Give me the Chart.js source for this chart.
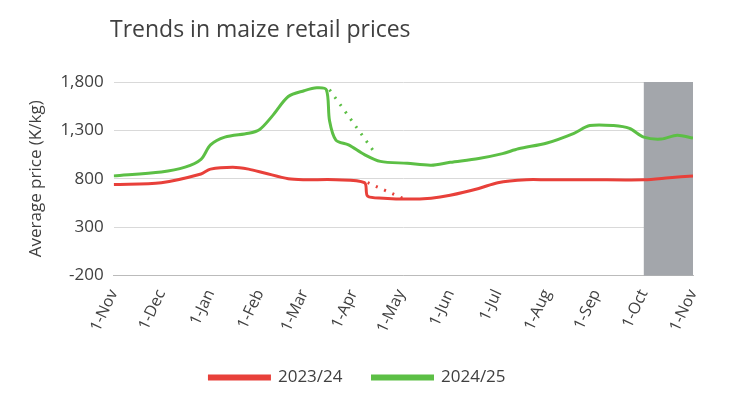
<!DOCTYPE html>
<html>
<head>
<meta charset="utf-8">
<script src="https://cdn.jsdelivr.net/npm/chart.js@4/dist/chart.umd.min.js"></script>
<style>
body { margin:0; background:#fff; }
#wrap { position:relative; width:730px; height:400px; }
#title { position:absolute; left:110px; top:12px; font:23px "Open Sans", Arial, sans-serif; color:#404040; }
</style>
</head>
<body>
<div id="wrap">
<div id="title">Trends in maize retail prices</div>
<canvas id="c" width="730" height="400"></canvas>
</div>
<script>
/* Month labels and day offsets from 1-Nov */
const monthLabels = ["1-Nov","1-Dec","1-Jan","1-Feb","1-Mar","1-Apr","1-May","1-Jun","1-Jul","1-Aug","1-Sep","1-Oct","1-Nov"];
const monthDays = [0,30,61,92,120,151,181,212,242,273,304,334,365];
const yTicks = [-200,300,800,1300,1800];

const daysA = [0,30,55,61,75,85,95,110,120,140,158,160,170,185,200,212,230,242,260,273,300,334,350,365];
const price2324 = [740,760,850,900,920,900,860,800,790,790,760,620,600,590,600,630,700,760,790,790,790,790,810,830];

const daysB = [0,30,45,55,61,70,85,92,100,110,120,128,134,136,140,148,158,168,185,200,212,230,245,255,273,290,300,315,325,334,345,355,365];
const price2425 = [830,870,920,1000,1150,1230,1270,1310,1450,1650,1710,1740,1720,1400,1200,1150,1050,980,960,940,970,1010,1060,1110,1170,1270,1350,1350,1320,1230,1210,1250,1220];

const dotDaysA = [160,182], dotA = [760,600];
const dotDaysB = [136,164], dotB = [1720,1080];
const shadeFrom = 334, shadeTo = 365;

const pts = (xs, ys) => xs.map((x, i) => ({x: x, y: ys[i]}));

const shade = {
    id: 'shade',
    beforeDatasetsDraw(chart) {
        const {ctx, chartArea, scales} = chart;
        const x1 = scales.x.getPixelForValue(shadeFrom), x2 = scales.x.getPixelForValue(shadeTo);
        ctx.save();
        ctx.fillStyle = '#a3a6ab';
        ctx.fillRect(x1, chartArea.top, x2 - x1, chartArea.bottom - chartArea.top);
        ctx.restore();
    }
};

new Chart(document.getElementById("c").getContext('2d'), {
    type: 'line',
    data: {
        datasets: [
            {label: '2023/24', data: pts(daysA, price2324), borderColor: '#e8403a', borderWidth: 3, pointRadius: 0, tension: 0.3},
            {label: '2024/25', data: pts(daysB, price2425), borderColor: '#5cbf45', borderWidth: 3, pointRadius: 0, tension: 0.3},
            {label: 'dotA', data: pts(dotDaysA, dotA), borderColor: '#e8403a', borderWidth: 3, borderDash: [2, 7], pointRadius: 0},
            {label: 'dotB', data: pts(dotDaysB, dotB), borderColor: '#5cbf45', borderWidth: 3, borderDash: [2, 7], pointRadius: 0}
        ]
    },
    options: {
        responsive: false,
        animation: false,
        layout: {padding: {top: 82, right: 37, left: 22, bottom: 4}},
        plugins: {
            legend: {
                position: 'bottom',
                labels: {
                    filter: item => !item.text.startsWith('dot'),
                    boxWidth: 60, boxHeight: 3, padding: 30,
                    color: '#404040', font: {size: 17, family: 'Open Sans'}
                }
            },
            tooltip: {enabled: false}
        },
        scales: {
            x: {
                type: 'linear', min: 0, max: 365,
                afterBuildTicks: axis => { axis.ticks = monthDays.map(v => ({value: v})); },
                ticks: {
                    callback: (v) => monthLabels[monthDays.indexOf(v)],
                    maxRotation: 65, minRotation: 65, autoSkip: false,
                    color: '#404040', font: {size: 16, family: 'Open Sans'}
                },
                grid: {display: false, drawTicks: true},
                border: {color: '#bbb'}
            },
            y: {
                min: -200, max: 1800,
                afterBuildTicks: axis => { axis.ticks = yTicks.map(v => ({value: v})); },
                ticks: {
                    callback: v => v.toLocaleString('en-US'),
                    padding: 10,
                    color: '#404040', font: {size: 17, family: 'Open Sans'}
                },
                grid: {color: '#d9d9d9', drawTicks: false},
                border: {display: false},
                title: {display: true, text: 'Average price (K/kg)', color: '#404040', font: {size: 17, family: 'Open Sans'}}
            }
        }
    },
    plugins: [shade]
});
</script>
</body>
</html>
